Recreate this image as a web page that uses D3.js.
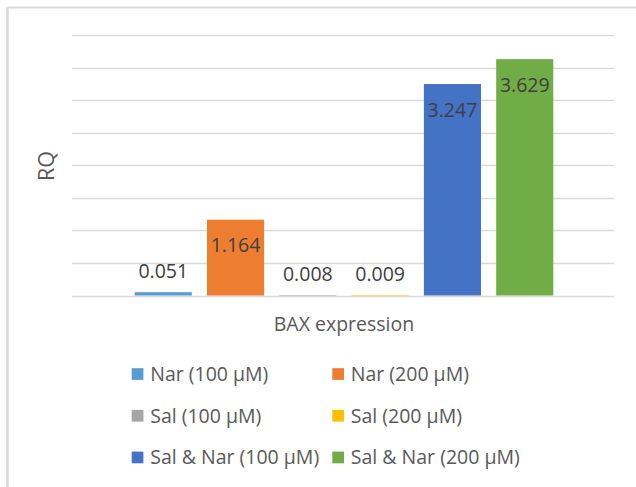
<!DOCTYPE html>
<html>
<head>
<meta charset="utf-8">
<script src="https://cdn.jsdelivr.net/npm/d3@7"></script>
<style>
  html, body { margin: 0; padding: 0; background: #fff; }
  svg { display: block; }
  text { font-family: "Open Sans", "Noto Sans", sans-serif; }
</style>
</head>
<body>
<svg id="chart" width="636" height="487"></svg>
<script>
// BAX expression (RQ) by treatment
const categories = ["BAX expression"];
const seriesNames = ["Nar (100 µM)", "Nar (200 µM)", "Sal (100 µM)", "Sal (200 µM)", "Sal & Nar (100 µM)", "Sal & Nar (200 µM)"];
const seriesValues = [0.051, 1.164, 0.008, 0.009, 3.247, 3.629];
const valueLabels = ["0.051", "1.164", "0.008", "0.009", "3.247", "3.629"];
const seriesColors = ["#5B9BD5", "#ED7D31", "#A5A5A5", "#FFC000", "#4472C4", "#70AD47"];
const gridTicks = [0, 0.5, 1, 1.5, 2, 2.5, 3, 3.5, 4];

const svg = d3.select("#chart");

// outer frame (top and left edges visible)
svg.append("line").attr("x1", 7.5).attr("x2", 640).attr("y1", 7.5).attr("y2", 7.5)
  .attr("stroke", "#d9d9d9").attr("stroke-width", 2);
svg.append("line").attr("x1", 7.5).attr("x2", 7.5).attr("y1", 7.5).attr("y2", 487)
  .attr("stroke", "#d9d9d9").attr("stroke-width", 2.5);

const plot = { left: 72, right: 614, top: 35, bottom: 295.5 };

const y = d3.scaleLinear().domain([0, 4]).range([plot.bottom, plot.top]);

const x0 = d3.scaleBand().domain(categories).range([plot.left, plot.right]).padding(0);
const x1 = d3.scaleBand().domain(seriesNames)
  .range([62.7, x0.bandwidth() - 60.7])
  .paddingInner(0.21).paddingOuter(0);

// horizontal gridlines
svg.append("g").selectAll("line").data(gridTicks).join("line")
  .attr("x1", plot.left).attr("x2", plot.right)
  .attr("y1", d => Math.round(y(d)) + 0.5).attr("y2", d => Math.round(y(d)) + 0.5)
  .attr("stroke", "#d9d9d9").attr("stroke-width", 1.3);

const data = seriesNames.map((s, i) => ({ s, v: seriesValues[i], label: valueLabels[i], c: seriesColors[i] }));

const g = svg.append("g").attr("transform", `translate(${x0(categories[0])},0)`);

g.selectAll("rect").data(data).join("rect")
  .attr("x", d => x1(d.s))
  .attr("y", d => y(d.v))
  .attr("width", x1.bandwidth())
  .attr("height", d => y(0) - y(d.v))
  .attr("fill", d => d.c);

// value labels: inside end for tall bars, above for short ones
g.selectAll("text.val").data(data).join("text")
  .attr("class", "val")
  .attr("x", d => x1(d.s) + x1.bandwidth() / 2)
  .attr("y", d => (y(0) - y(d.v)) > 40 ? y(d.v) + 32.5 : y(d.v) - 14)
  .attr("text-anchor", "middle")
  .attr("font-size", 19.5)
  .attr("fill", "#404040")
  .text(d => d.label);

// axis titles
svg.append("text")
  .attr("transform", "translate(54,166) rotate(-90)")
  .attr("text-anchor", "middle")
  .attr("font-size", 21.5)
  .attr("fill", "#595959")
  .text("RQ");

svg.append("text")
  .attr("x", 344).attr("y", 331)
  .attr("text-anchor", "middle")
  .attr("font-size", 19.5)
  .attr("fill", "#595959")
  .text(categories[0]);

// legend, two columns
const legend = svg.append("g");
const items = legend.selectAll("g").data(data).join("g")
  .attr("transform", (d, i) => `translate(${131.7 + (i % 2) * 200.6},${374 + Math.floor(i / 2) * 41.7})`);
items.append("rect")
  .attr("x", 0).attr("y", -5.8).attr("width", 11.7).attr("height", 11.7)
  .attr("fill", d => d.c);
items.append("text")
  .attr("x", 18.5).attr("y", 6.8)
  .attr("font-size", 19.5)
  .attr("fill", "#595959")
  .text(d => d.s);
</script>
</body>
</html>
